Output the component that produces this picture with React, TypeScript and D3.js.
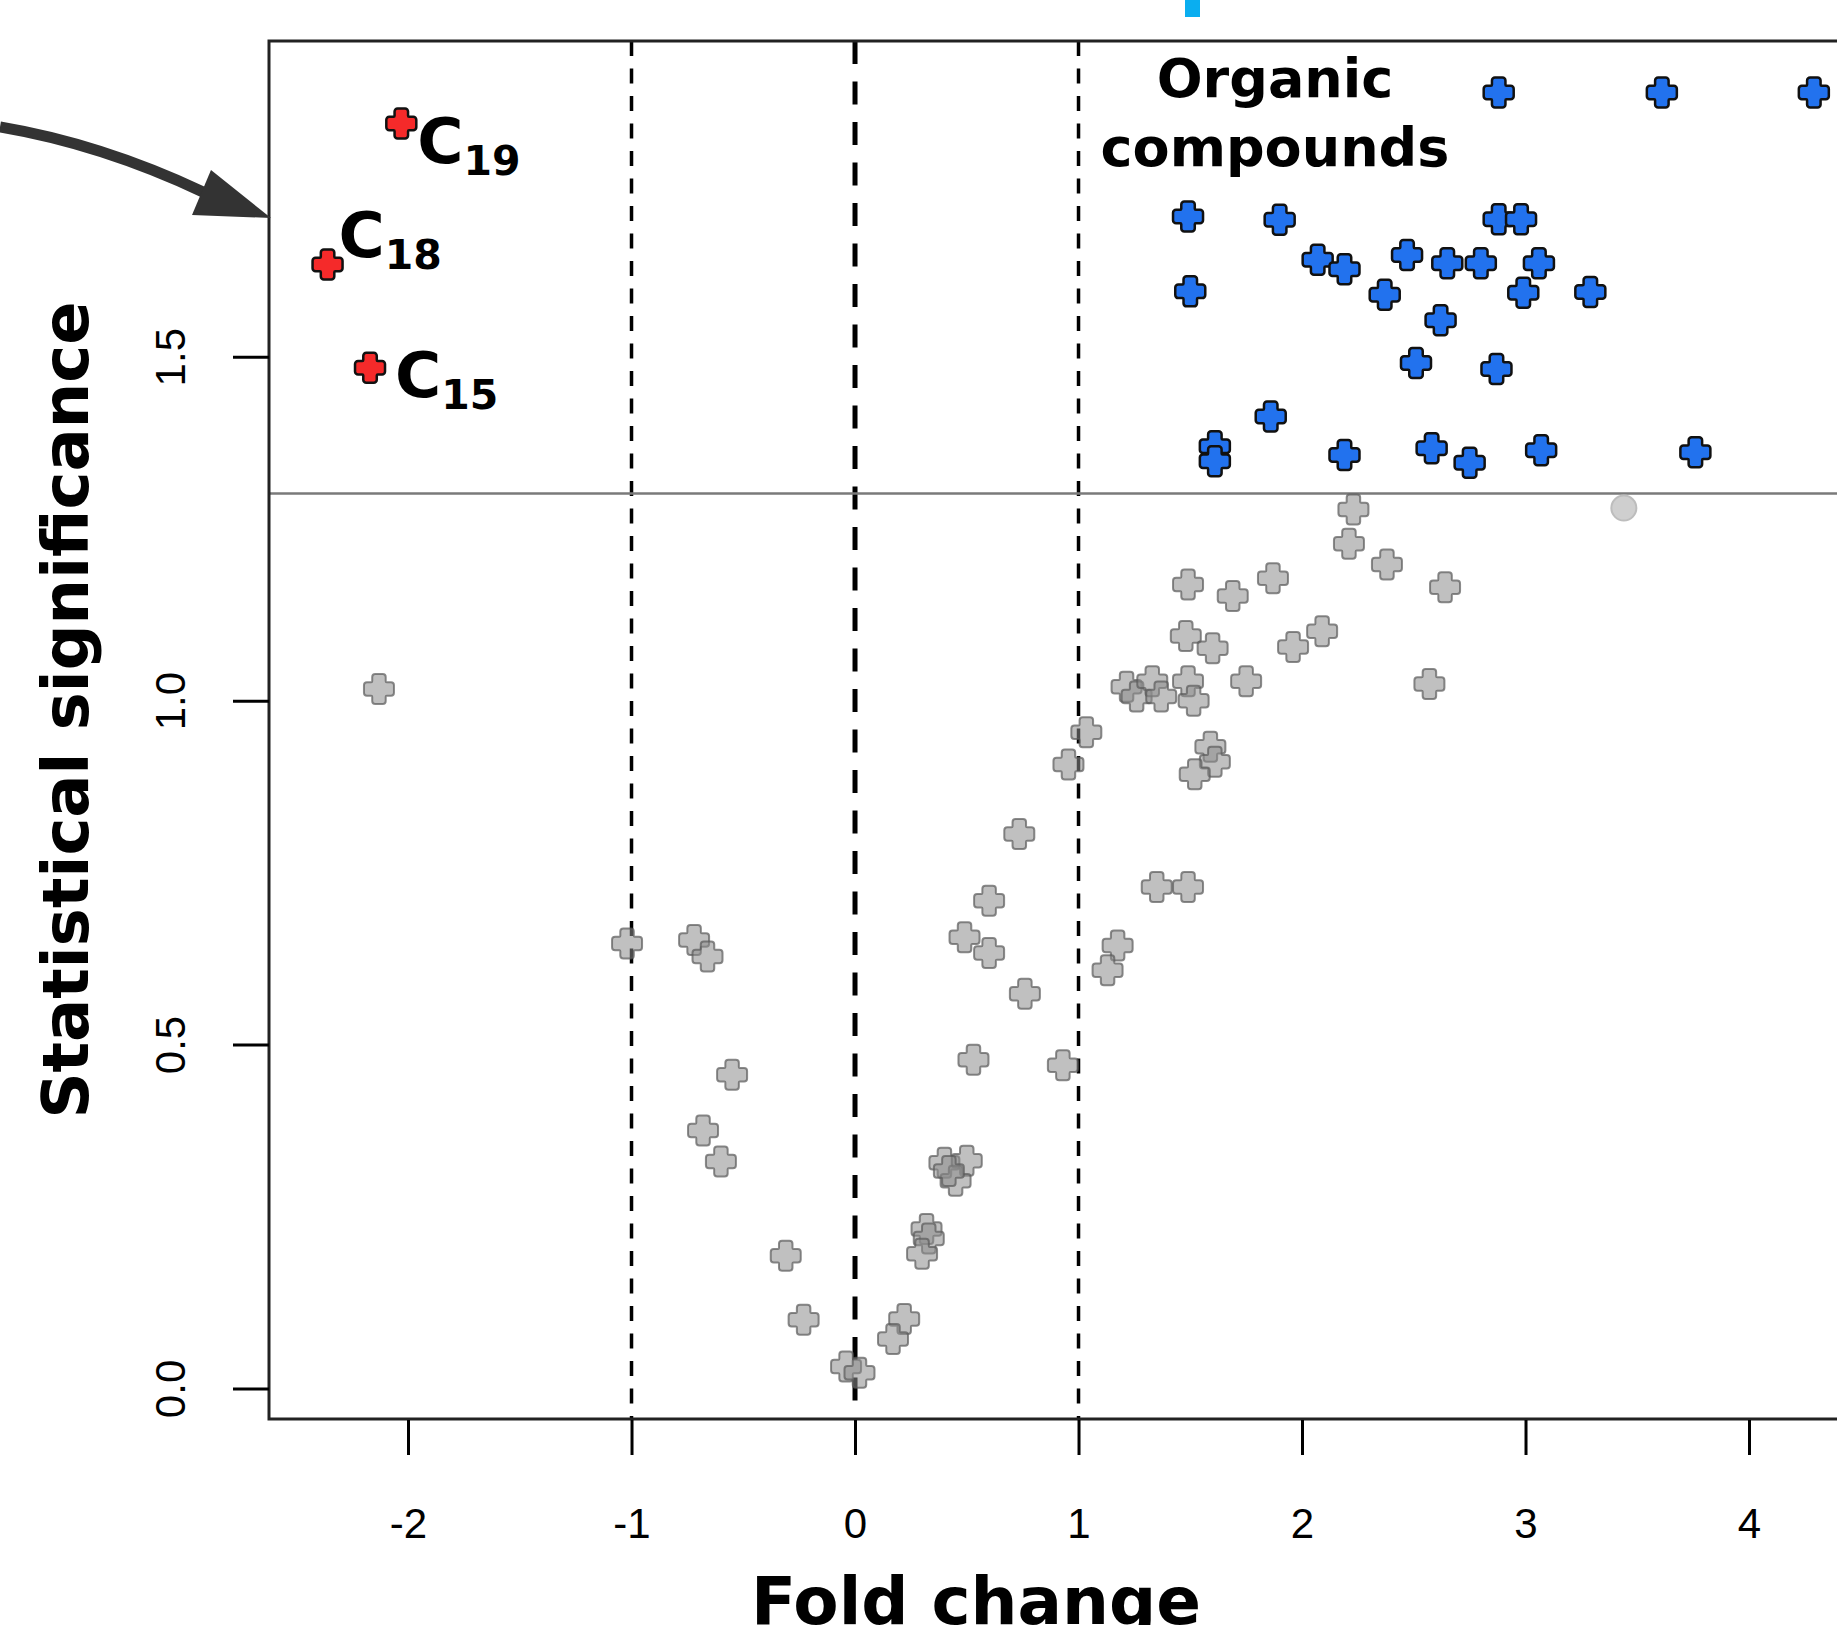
import React, { useRef, useEffect } from "react";
import * as d3 from "d3";

const W = 1837;
const H = 1625;

// not significant compounds (grey crosses)
const greyFold = [
  -2.13, -1.02, -0.72, -0.66, -0.55, -0.68, -0.6, -0.31, -0.23, -0.04, 0.02,
  0.22, 0.17, 0.32, 0.33, 0.3, 0.4, 0.5, 0.45, 0.42, 0.53, 0.93, 0.49, 0.6,
  0.6, 0.76, 0.735, 1.035, 0.955, 1.175, 1.13, 1.35, 1.49, 1.59, 1.61, 1.52,
  1.215, 1.26, 1.33, 1.37, 1.49, 1.515, 1.75, 2.57, 1.48, 1.6, 1.96, 2.09,
  1.49, 1.69, 1.87, 2.64, 2.38, 2.21, 2.23,
];
const greySig = [
  1.017, 0.647, 0.652, 0.628, 0.456, 0.375, 0.33, 0.193, 0.1, 0.032, 0.023,
  0.101, 0.072, 0.232, 0.218, 0.196, 0.328, 0.331, 0.302, 0.316, 0.478, 0.47,
  0.656, 0.633, 0.709, 0.574, 0.806, 0.954, 0.907, 0.644, 0.608, 0.729, 0.729,
  0.933, 0.911, 0.893, 1.02, 1.006, 1.028, 1.006, 1.028, 1.0, 1.028, 1.024,
  1.094, 1.076, 1.078, 1.101, 1.169, 1.152, 1.178, 1.165, 1.198, 1.228, 1.278,
];

// organic compounds (blue crosses)
const blueFold = [
  2.88, 3.61, 4.29, 1.49, 1.9, 2.88, 2.98, 2.07, 2.19, 2.47, 2.65, 2.8, 3.06,
  1.5, 2.37, 2.99, 3.29, 2.62, 2.51, 2.87, 1.86, 1.61, 1.61, 2.19, 2.58, 2.75,
  3.07, 3.76,
];
const blueSig = [
  1.884, 1.884, 1.884, 1.704, 1.699, 1.7, 1.7, 1.641, 1.627, 1.648, 1.636,
  1.636, 1.636, 1.595, 1.59, 1.593, 1.594, 1.553, 1.491, 1.482, 1.413, 1.37,
  1.348, 1.357, 1.367, 1.346, 1.364, 1.361,
];

// labelled alkanes (red crosses)
const redLabels = ["19", "18", "15"];
const redFold = [-2.03, -2.36, -2.17];
const redSig = [1.839, 1.634, 1.484];

// the single grey circle
const circleFold = [3.44];
const circleSig = [1.28];

const xTicks = [-2, -1, 0, 1, 2, 3, 4];
const yTicks = [0, 0.5, 1.0, 1.5];
const foldCuts = [-1, 0, 1];
const sigCut = 1.301;

// label offsets from their points (px)
const redLabelDx = [16, 11, 25];
const redLabelDy = [39, -8, 29];

// plus sign with rounded outer corners
const roundCross = {
  draw(ctx: any, size: number) {
    const s = Math.sqrt(size) / 2;
    const a = s * 0.45;
    const r = 3;
    const ri = 1;
    ctx.moveTo(0, -s);
    ctx.arcTo(a, -s, a, -a, r);
    ctx.arcTo(a, -a, s, -a, ri);
    ctx.arcTo(s, -a, s, a, r);
    ctx.arcTo(s, a, a, a, r);
    ctx.arcTo(a, a, a, s, ri);
    ctx.arcTo(a, s, -a, s, r);
    ctx.arcTo(-a, s, -a, a, r);
    ctx.arcTo(-a, a, -s, a, ri);
    ctx.arcTo(-s, a, -s, -a, r);
    ctx.arcTo(-s, -a, -a, -a, r);
    ctx.arcTo(-a, -a, -a, -s, ri);
    ctx.arcTo(-a, -s, a, -s, r);
    ctx.closePath();
  },
};

function VolcanoPlot() {
  const svgRef = useRef<SVGSVGElement>(null);

  useEffect(() => {
    const svg = d3.select(svgRef.current);
    svg.selectAll("*").remove();

    const left = 269;
    const top = 41;
    const bottom = 1419;

    const x = d3.scaleLinear().domain([-2.622, 4.5]).range([left, left + 7.122 * 223.5]);
    const y = d3.scaleLinear().domain([-0.0444, 1.959]).range([bottom, top]);

    const sym = d3.symbol().type(roundCross as any).size(900);

    // cut-off lines
    svg.selectAll(".vcut")
      .data(foldCuts)
      .join("line")
      .attr("x1", (d) => x(d))
      .attr("x2", (d) => x(d))
      .attr("y1", top)
      .attr("y2", bottom)
      .attr("stroke", "#000")
      .attr("stroke-width", (d) => (d === 0 ? 5 : 3.5))
      .attr("stroke-dasharray", (d) => (d === 0 ? "23 17.5" : "15 12.5"));

    svg.append("line")
      .attr("x1", left)
      .attr("x2", W)
      .attr("y1", y(sigCut))
      .attr("y2", y(sigCut))
      .attr("stroke", "#7a7a7a")
      .attr("stroke-width", 2.5);

    // grey points
    const grey = greyFold.map((f, i) => [f, greySig[i]]);
    svg.append("g")
      .selectAll("path")
      .data(grey)
      .join("path")
      .attr("d", sym)
      .attr("transform", (d) => `translate(${x(d[0])},${y(d[1])})`)
      .attr("fill", "rgba(140,140,140,0.55)")
      .attr("stroke", "rgba(90,90,90,0.7)")
      .attr("stroke-width", 2);

    svg.append("g")
      .selectAll("circle")
      .data(circleFold.map((f, i) => [f, circleSig[i]]))
      .join("circle")
      .attr("cx", (d) => x(d[0]))
      .attr("cy", (d) => y(d[1]))
      .attr("r", 12.5)
      .attr("fill", "#cfcfcf")
      .attr("stroke", "#bdbdbd")
      .attr("stroke-width", 2);

    // blue points
    svg.append("g")
      .selectAll("path")
      .data(blueFold.map((f, i) => [f, blueSig[i]]))
      .join("path")
      .attr("d", sym)
      .attr("transform", (d) => `translate(${x(d[0])},${y(d[1])})`)
      .attr("fill", "#2272ee")
      .attr("stroke", "#111")
      .attr("stroke-width", 2.5);

    // red points + labels
    const red = redFold.map((f, i) => ({ f, s: redSig[i], label: redLabels[i], dx: redLabelDx[i], dy: redLabelDy[i] }));
    svg.append("g")
      .selectAll("path")
      .data(red)
      .join("path")
      .attr("d", sym)
      .attr("transform", (d) => `translate(${x(d.f)},${y(d.s)})`)
      .attr("fill", "#f52a2a")
      .attr("stroke", "#111")
      .attr("stroke-width", 2.5);

    const lab = svg.append("g")
      .selectAll("text")
      .data(red)
      .join("text")
      .attr("x", (d) => x(d.f) + d.dx)
      .attr("y", (d) => y(d.s) + d.dy)
      .attr("font-family", "DejaVu Sans")
      .attr("font-weight", "bold")
      .attr("font-size", 63)
      .attr("fill", "#000");
    lab.append("tspan").text("C");
    lab.append("tspan").attr("dy", 12).attr("font-size", 41).text((d) => d.label);

    // frame
    svg.append("path")
      .attr("d", `M${W + 5},${top}H${left}V${bottom}H${W + 5}`)
      .attr("fill", "none")
      .attr("stroke", "#222")
      .attr("stroke-width", 3);

    // x axis
    const xAxis = d3.axisBottom(x)
      .tickValues(xTicks)
      .tickSize(35)
      .tickSizeOuter(0)
      .tickFormat((d) => String(d));
    const gx = svg.append("g").attr("transform", `translate(0,${bottom + 1})`).call(xAxis);
    gx.select(".domain").remove();
    gx.selectAll("line").attr("stroke", "#000").attr("stroke-width", 3);
    gx.selectAll("text")
      .attr("y", 118)
      .attr("dy", 0)
      .attr("fill", "#000")
      .attr("font-family", "Liberation Sans")
      .attr("font-size", 42);

    // y axis
    const yAxis = d3.axisLeft(y)
      .tickValues(yTicks)
      .tickSize(36)
      .tickSizeOuter(0)
      .tickFormat(d3.format(".1f"));
    const gy = svg.append("g").attr("transform", `translate(${left},0)`).call(yAxis);
    gy.select(".domain").remove();
    gy.selectAll("line").attr("stroke", "#000").attr("stroke-width", 3);
    gy.selectAll("text")
      .attr("transform", "rotate(-90)")
      .attr("x", 0)
      .attr("y", -84)
      .attr("dy", 0)
      .attr("text-anchor", "middle")
      .attr("fill", "#000")
      .attr("font-family", "Liberation Sans")
      .attr("font-size", 42);

    // axis titles
    svg.append("text")
      .attr("transform", `translate(88,710) rotate(-90)`)
      .attr("text-anchor", "middle")
      .attr("font-family", "DejaVu Sans")
      .attr("font-weight", "bold")
      .attr("font-size", 64)
      .text("Statistical significance");

    svg.append("text")
      .attr("x", 976)
      .attr("y", 1624)
      .attr("text-anchor", "middle")
      .attr("font-family", "DejaVu Sans")
      .attr("font-weight", "bold")
      .attr("font-size", 66)
      .text("Fold change");

    // group label
    const org = svg.append("text")
      .attr("text-anchor", "middle")
      .attr("font-family", "DejaVu Sans")
      .attr("font-weight", "bold")
      .attr("font-size", 54);
    org.append("tspan").attr("x", 1275).attr("y", 97).text("Organic");
    org.append("tspan").attr("x", 1275).attr("y", 166).text("compounds");

    // arrow pointing into the plot
    svg.append("path")
      .attr("d", "M0,127 Q101,144 203,192")
      .attr("fill", "none")
      .attr("stroke", "#333")
      .attr("stroke-width", 11);
    svg.append("path")
      .attr("d", "M271,218 L211,170 L192,215 Z")
      .attr("fill", "#333");

    // cyan mark at top
    svg.append("rect")
      .attr("x", 1185)
      .attr("y", 0)
      .attr("width", 15)
      .attr("height", 17)
      .attr("fill", "#0aaef0");
  }, []);

  return (
    <svg
      ref={svgRef}
      width={W}
      height={H}
      style={{ position: "absolute", left: 0, top: 0, display: "block", background: "#fff" }}
    />
  );
}

export default function App() {
  return <VolcanoPlot />;
}
